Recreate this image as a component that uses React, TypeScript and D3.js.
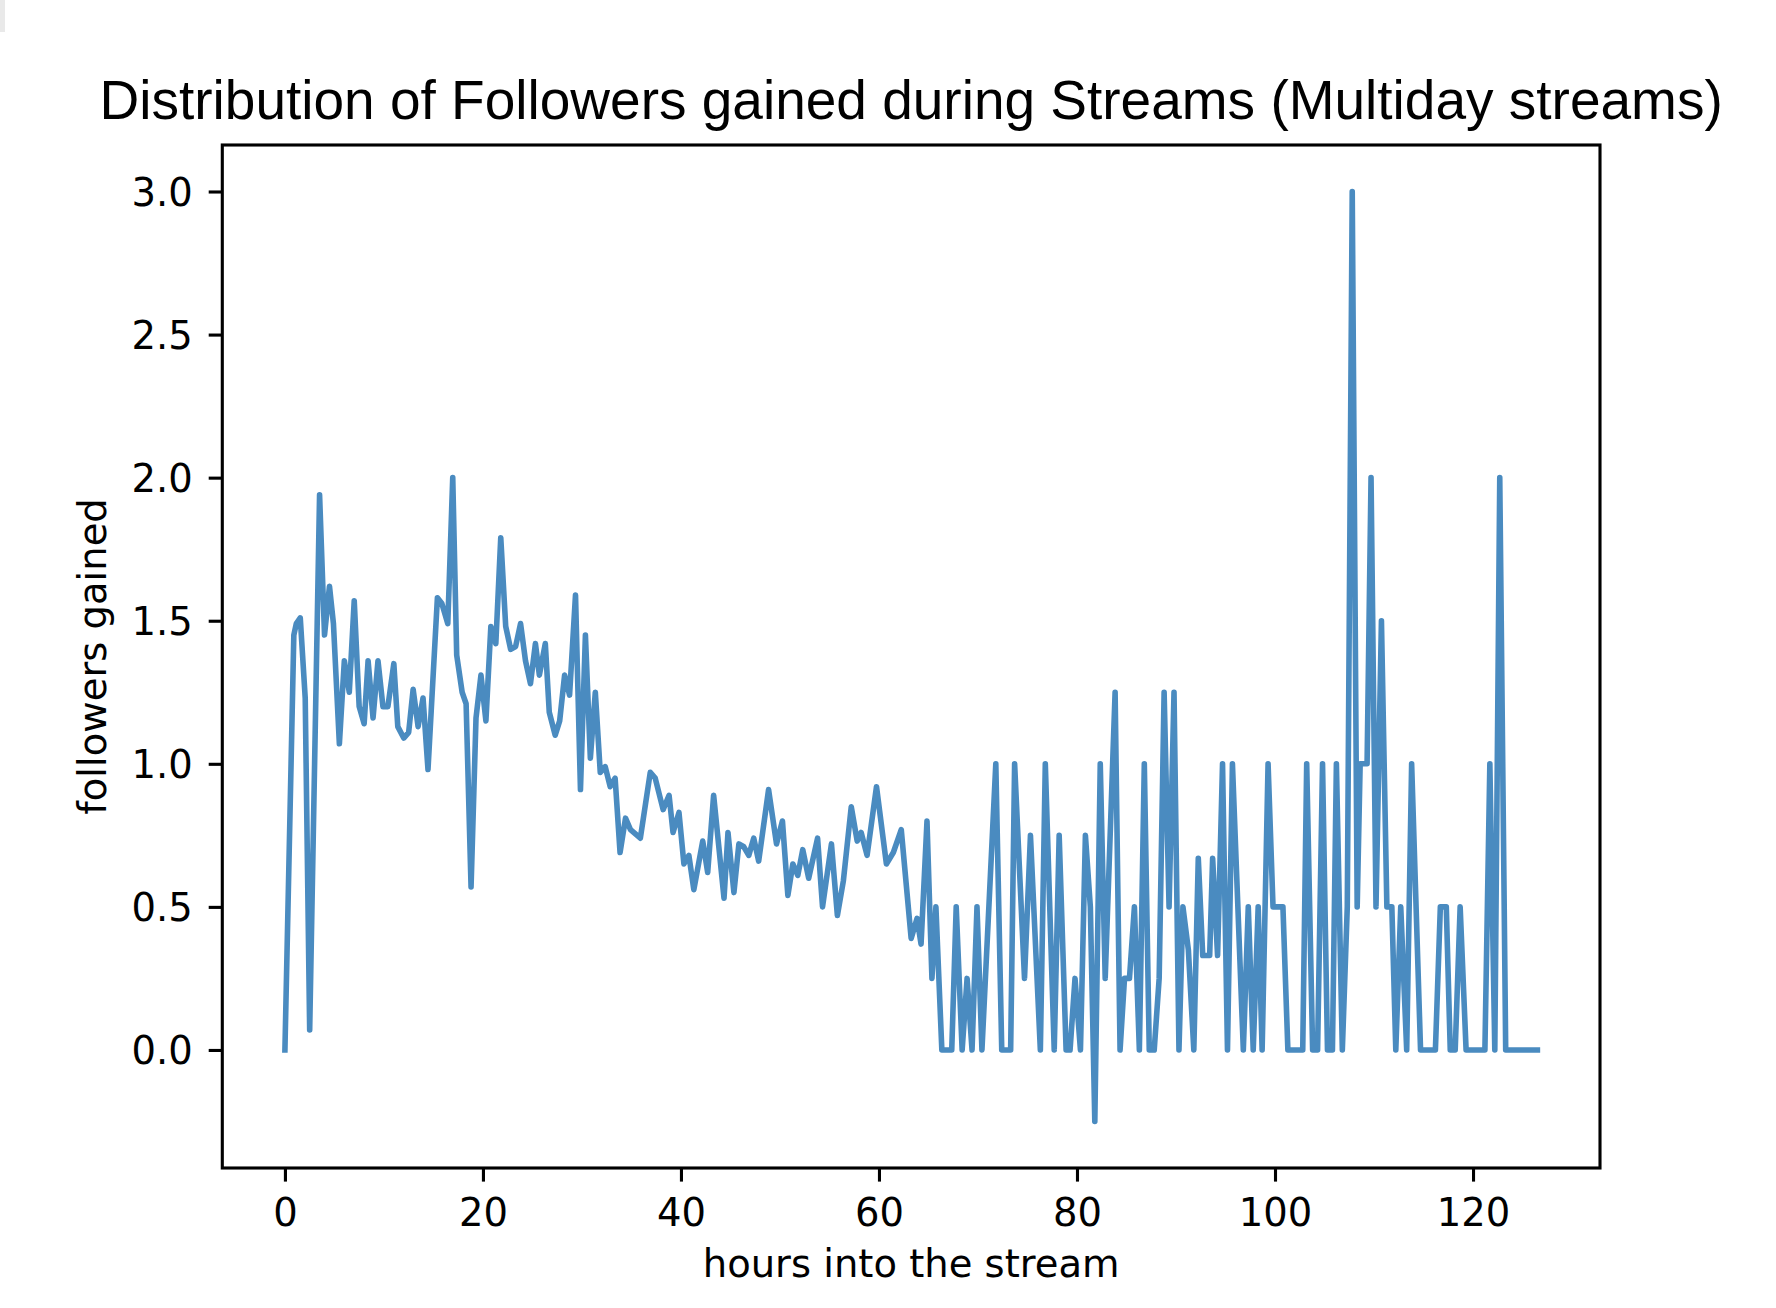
import { useEffect, useRef } from 'react';
import * as d3 from 'd3';

const chartTitle = 'Distribution of Followers gained during Streams (Multiday streams)';
const xAxisLabel = 'hours into the stream';
const yAxisLabel = 'followers gained';

// hours into the stream (x of each vertex of the line)
const hoursIntoStream = [
  0, 0.9, 1.15, 1.55, 2.05, 2.5, 3.5, 4.0, 4.5, 4.9,
  5.5, 6.0, 6.5, 7.0, 7.5, 8.0, 8.4, 8.9, 9.4, 9.9,
  10.4, 11.0, 11.4, 12.0, 12.5, 12.95, 13.45, 13.95, 14.45, 15.4,
  15.85, 16.45, 16.95, 17.35, 17.9, 18.3, 18.8, 19.3, 19.8, 20.3,
  20.8, 21.3, 21.8, 22.3, 22.8, 23.3, 23.8, 24.3, 24.8, 25.3,
  25.7, 26.3, 26.7, 27.3, 27.75, 28.25, 28.75, 29.35, 29.85, 30.35,
  30.85, 31.35, 31.85, 32.35, 32.85, 33.35, 33.85, 34.4, 34.9, 35.9,
  36.9, 37.4, 38.2, 38.8, 39.2, 39.8, 40.3, 40.8, 41.3, 42.2,
  42.7, 43.3, 44.35, 44.75, 45.35, 45.85, 46.35, 46.85, 47.35, 47.85,
  48.85, 49.65, 50.25, 50.8, 51.3, 51.8, 52.3, 52.9, 53.8, 54.3,
  55.2, 55.8, 56.4, 57.2, 57.8, 58.2, 58.8, 59.75, 60.75, 61.45,
  62.25, 63.25, 63.85, 64.25, 64.85, 65.35, 65.75, 66.35, 67.35, 67.8,
  68.4, 68.9, 69.4, 69.9, 70.4, 71.8, 72.4, 73.3, 73.7, 74.7,
  75.3, 76.3, 76.8, 77.7, 78.2, 78.9, 79.3, 79.8, 80.35, 80.85,
  81.35, 81.8, 82.35, 82.85, 83.85, 84.35, 84.8, 85.3, 85.8, 86.3,
  86.8, 87.3, 87.8, 88.3, 88.8, 89.3, 89.8, 90.3, 90.7, 91.25,
  91.8, 92.25, 92.7, 93.4, 93.7, 94.2, 94.7, 95.2, 95.7, 96.8,
  97.3, 97.8, 98.3, 98.7, 99.3, 99.8, 100.8, 101.3, 102.8, 103.2,
  103.8, 104.3, 104.8, 105.3, 105.8, 106.2, 106.8, 107.3, 107.8, 108.3,
  108.6, 109.3, 109.7, 110.2, 110.75, 111.3, 111.8, 112.2, 112.7, 113.3,
  113.8, 114.7, 116.2, 116.7, 117.3, 117.7, 118.2, 118.7, 119.3, 121.2,
  121.7, 122.2, 122.7, 123.3, 126.5,
];

// followers gained at each of those hours
const followersGained = [
  0, 1.45, 1.49, 1.51, 1.23, 0.07, 1.94, 1.45, 1.62, 1.49,
  1.07, 1.36, 1.25, 1.57, 1.2, 1.14, 1.36, 1.16, 1.36, 1.2,
  1.2, 1.35, 1.13, 1.09, 1.11, 1.26, 1.13, 1.23, 0.98, 1.58,
  1.56, 1.49, 2.0, 1.38, 1.25, 1.21, 0.57, 1.16, 1.31, 1.15,
  1.48, 1.42, 1.79, 1.48, 1.4, 1.41, 1.49, 1.36, 1.28, 1.42,
  1.31, 1.42, 1.18, 1.1, 1.15, 1.31, 1.24, 1.59, 0.91, 1.45,
  1.02, 1.25, 0.97, 0.99, 0.92, 0.95, 0.69, 0.81, 0.77, 0.74,
  0.97, 0.95, 0.84, 0.89, 0.76, 0.83, 0.65, 0.68, 0.56, 0.73,
  0.62, 0.89, 0.53, 0.76, 0.55, 0.72, 0.71, 0.68, 0.74, 0.66,
  0.91, 0.72, 0.8, 0.54, 0.65, 0.61, 0.7, 0.6, 0.74, 0.5,
  0.72, 0.47, 0.59, 0.85, 0.73, 0.76, 0.68, 0.92, 0.65, 0.69,
  0.77, 0.39, 0.46, 0.37, 0.8, 0.25, 0.5, 0, 0, 0.5,
  0, 0.25, 0, 0.5, 0, 1.0, 0, 0, 1.0, 0.25,
  0.75, 0, 1.0, 0, 0.75, 0, 0, 0.25, 0, 0.75,
  0.5, -0.25, 1.0, 0.25, 1.25, 0, 0.25, 0.25, 0.5, 0,
  1.0, 0, 0, 0.25, 1.25, 0.5, 1.25, 0, 0.5, 0.35,
  0, 0.67, 0.33, 0.33, 0.67, 0.33, 1.0, 0, 1.0, 0,
  0.5, 0, 0.5, 0, 1.0, 0.5, 0.5, 0, 0, 1.0,
  0, 0, 1.0, 0, 0, 1.0, 0, 0.5, 3.0, 0.5,
  1.0, 1.0, 2.0, 0.5, 1.5, 0.5, 0.5, 0, 0.5, 0,
  1.0, 0, 0, 0.5, 0.5, 0, 0, 0.5, 0, 0,
  1.0, 0, 2.0, 0, 0,
];

const xTickValues = [0, 20, 40, 60, 80, 100, 120];
const yTickValues = [0, 0.5, 1.0, 1.5, 2.0, 2.5, 3.0];

const App = () => {
  const chartRef = useRef<SVGSVGElement>(null);

  useEffect(() => {
    if (!chartRef.current) return;

    const svg = d3.select(chartRef.current);
    svg.selectAll('*').remove();

    const width = 1776;
    const height = 1308;
    const box = { left: 222.3, right: 1600, top: 145, bottom: 1168 };
    const tickFont = '"DejaVu Sans", sans-serif';
    const fontSize = 38.5;

    // matplotlib style 5% margins around the data
    const [xMin, xMax] = d3.extent(hoursIntoStream) as [number, number];
    const [yMin, yMax] = d3.extent(followersGained) as [number, number];
    const xPad = (xMax - xMin) * 0.05;
    const yPad = (yMax - yMin) * 0.05;

    const x = d3.scaleLinear()
      .domain([xMin - xPad, xMax + xPad])
      .range([box.left, box.right]);

    const y = d3.scaleLinear()
      .domain([yMin - yPad, yMax + yPad])
      .range([box.bottom, box.top]);

    svg.append('rect')
      .attr('width', width)
      .attr('height', height)
      .attr('fill', '#fff');

    // little grey sliver at the top-left edge of the screenshot
    svg.append('rect')
      .attr('x', 0)
      .attr('y', 0)
      .attr('width', 5)
      .attr('height', 32)
      .attr('fill', '#e9e9e9');

    // line
    const line = d3.line<number>()
      .x((_, i) => x(hoursIntoStream[i]))
      .y(d => y(d));

    svg.append('path')
      .datum(followersGained)
      .attr('fill', 'none')
      .attr('stroke', '#4a8bc0')
      .attr('stroke-width', 5.6)
      .attr('stroke-linejoin', 'round')
      .attr('stroke-linecap', 'square')
      .attr('d', line);

    // X axis
    const xAxis = svg.append('g')
      .attr('transform', `translate(0,${box.bottom})`)
      .call(d3.axisBottom(x)
        .tickValues(xTickValues)
        .tickFormat(d3.format('d'))
        .tickSize(13.6)
        .tickSizeOuter(0)
        .tickPadding(13.6));
    xAxis.select('.domain').remove();
    xAxis.attr('color', '#000');
    xAxis.selectAll('line').attr('stroke-width', 3.1);
    xAxis.selectAll('text')
      .attr('dy', '0.8em')
      .style('font-family', tickFont)
      .style('font-size', `${fontSize}px`);

    // Y axis
    const yAxis = svg.append('g')
      .attr('transform', `translate(${box.left},0)`)
      .call(d3.axisLeft(y)
        .tickValues(yTickValues)
        .tickFormat(d3.format('.1f'))
        .tickSize(13.6)
        .tickSizeOuter(0)
        .tickPadding(16));
    yAxis.select('.domain').remove();
    yAxis.attr('color', '#000');
    yAxis.selectAll('line').attr('stroke-width', 3.1);
    yAxis.selectAll('text')
      .attr('dy', '0.36em')
      .style('font-family', tickFont)
      .style('font-size', `${fontSize}px`);

    // frame
    svg.append('rect')
      .attr('x', box.left)
      .attr('y', box.top)
      .attr('width', box.right - box.left)
      .attr('height', box.bottom - box.top)
      .attr('fill', 'none')
      .attr('stroke', '#000')
      .attr('stroke-width', 3.1);

    // title
    svg.append('text')
      .attr('x', (box.left + box.right) / 2)
      .attr('y', 119)
      .style('text-anchor', 'middle')
      .style('font-family', '"Liberation Sans", Arial, sans-serif')
      .style('font-size', '55px')
      .attr('fill', '#000')
      .text(chartTitle);

    // axis labels
    svg.append('text')
      .attr('x', (box.left + box.right) / 2)
      .attr('y', 1277)
      .style('text-anchor', 'middle')
      .style('font-family', tickFont)
      .style('font-size', `${fontSize}px`)
      .attr('fill', '#000')
      .text(xAxisLabel);

    svg.append('text')
      .attr('transform', `translate(106,${(box.top + box.bottom) / 2}) rotate(-90)`)
      .style('text-anchor', 'middle')
      .style('font-family', tickFont)
      .style('font-size', `${fontSize}px`)
      .attr('fill', '#000')
      .text(yAxisLabel);
  }, []);

  return (
    <svg
      ref={chartRef}
      width={1776}
      height={1308}
      style={{ position: 'absolute', left: 0, top: 0, display: 'block' }}
    />
  );
};

export default App;
